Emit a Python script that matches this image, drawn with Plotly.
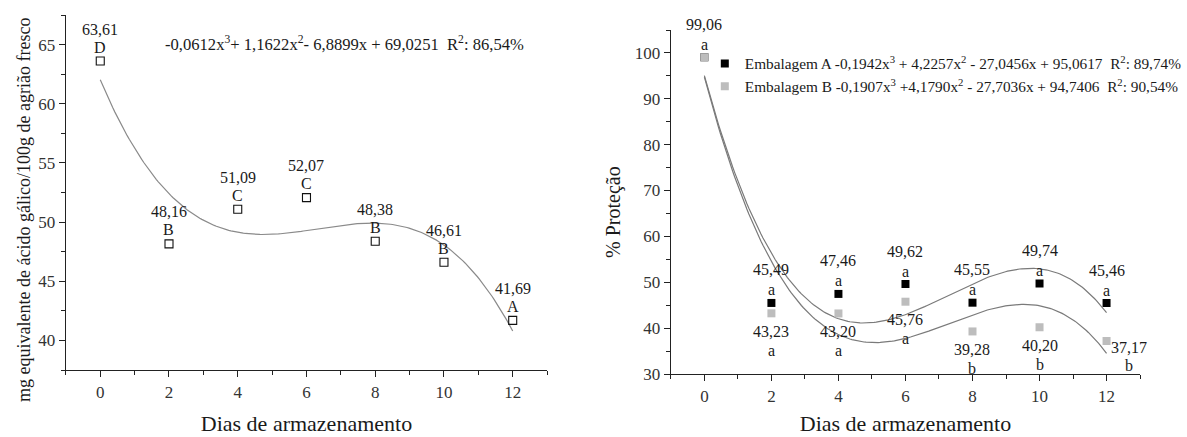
import numpy as np
import plotly.graph_objects as go

# ---- data ----
dias = [0, 2, 4, 6, 8, 10, 12]
fenois = [63.61, 48.16, 51.09, 52.07, 48.38, 46.61, 41.69]
fenois_letras = ["D", "B", "C", "C", "B", "B", "A"]

prot_a = [99.06, 45.49, 47.46, 49.62, 45.55, 49.74, 45.46]
prot_a_letras = ["a", "a", "a", "a", "a", "a", "a"]
prot_b = [99.06, 43.23, 43.20, 45.76, 39.28, 40.20, 37.17]
prot_b_letras = ["a", "a", "a", "a", "b", "b", "b"]

eq_left = "-0,0612x<sup>3</sup>+ 1,1622x<sup>2</sup>- 6,8899x + 69,0251\u00a0\u00a0R<sup>2</sup>: 86,54%"
name_a = "Embalagem A -0,1942x<sup>3</sup> + 4,2257x<sup>2</sup> - 27,0456x + 95,0617\u00a0\u00a0R<sup>2</sup>: 89,74%"
name_b = "Embalagem B -0,1907x<sup>3</sup> +4,1790x<sup>2</sup> - 27,7036x + 94,7406\u00a0\u00a0R<sup>2</sup>: 90,54%"

FONT = "Liberation Serif"
TXT = "#1a1a1a"
W, H = 1187, 437

def fmt(v):
    return f"{v:.2f}".replace(".", ",")

fig = go.Figure()

# fitted curves
xs = np.linspace(0, 12, 200)
c_left = np.polyfit(dias, fenois, 3)
fig.add_trace(go.Scatter(x=xs, y=np.polyval(c_left, xs), mode="lines",
                         line=dict(color="#8a8a8a", width=1.2), showlegend=False,
                         xaxis="x", yaxis="y"))
fig.add_trace(go.Scatter(x=dias, y=fenois, mode="markers",
                         marker=dict(symbol="square-open", size=8, color="#111",
                                     line=dict(width=1.1, color="#111")),
                         showlegend=False, xaxis="x", yaxis="y"))

c_a = np.polyfit(dias, prot_a, 3)
c_b = np.polyfit(dias, prot_b, 3)
fig.add_trace(go.Scatter(x=xs, y=np.polyval(c_a, xs), mode="lines",
                         line=dict(color="#7a7a7a", width=1.2), showlegend=False,
                         xaxis="x2", yaxis="y2"))
fig.add_trace(go.Scatter(x=xs, y=np.polyval(c_b, xs), mode="lines",
                         line=dict(color="#7a7a7a", width=1.2), showlegend=False,
                         xaxis="x2", yaxis="y2"))
fig.add_trace(go.Scatter(x=dias, y=prot_a, mode="markers", name=name_a,
                         marker=dict(symbol="square", size=8, color="#000"),
                         xaxis="x2", yaxis="y2"))
fig.add_trace(go.Scatter(x=dias, y=prot_b, mode="markers", name=name_b,
                         marker=dict(symbol="square", size=8, color="#bdbdbd"),
                         xaxis="x2", yaxis="y2"))

ann = []
lab_font = dict(family=FONT, size=16, color=TXT)
for x, v, l in zip(dias, fenois, fenois_letras):
    ann.append(dict(x=x, y=v, xref="x", yref="y", text=fmt(v), showarrow=False,
                    yshift=32, font=lab_font))
    ann.append(dict(x=x, y=v, xref="x", yref="y", text=l, showarrow=False,
                    yshift=14, font=lab_font))
for x, v, l in zip(dias, prot_a, prot_a_letras):
    ann.append(dict(x=x, y=v, xref="x2", yref="y2", text=fmt(v), showarrow=False,
                    yshift=33, font=lab_font))
    ann.append(dict(x=x, y=v, xref="x2", yref="y2", text=l, showarrow=False,
                    yshift=13, font=lab_font))
for i, (x, v, l) in enumerate(zip(dias[1:], prot_b[1:], prot_b_letras[1:])):
    last = (i == len(dias) - 2)
    xs_ = 22 if last else 0
    y1 = -6 if last else -18
    y2 = -24 if last else -37
    ann.append(dict(x=x, y=v, xref="x2", yref="y2", text=fmt(v), showarrow=False,
                    yshift=y1, xshift=xs_, font=lab_font))
    ann.append(dict(x=x, y=v, xref="x2", yref="y2", text=l, showarrow=False,
                    yshift=y2, xshift=xs_, font=lab_font))

ann.append(dict(x=163 / W, y=1 - 43 / H, xref="paper", yref="paper", text=eq_left,
                xanchor="left", yanchor="middle", showarrow=False,
                font=dict(family=FONT, size=16.6, color=TXT)))
ann.append(dict(x=24 / W, y=1 - 210 / H, xref="paper", yref="paper",
                text="mg equivalente de ácido gálico/100g de agrião fresco",
                textangle=-90, showarrow=False, xanchor="center", yanchor="middle",
                font=dict(family=FONT, size=18, color=TXT)))
ann.append(dict(x=614 / W, y=1 - 212 / H, xref="paper", yref="paper",
                text="% Proteção", textangle=-90, showarrow=False,
                xanchor="center", yanchor="middle",
                font=dict(family=FONT, size=20, color=TXT)))

def xaxis_style(domain, anchor, standoff):
    return dict(domain=domain, anchor=anchor, range=[-1, 13], dtick=2, tick0=0,
                showline=True, linecolor="#222", linewidth=1.3, showgrid=False,
                zeroline=False, ticks="outside", ticklen=6, tickcolor="#222",
                tickwidth=1.3, automargin=False,
                tickfont=dict(family=FONT, size=17, color="#333"),
                minor=dict(dtick=1, tick0=0, ticks="outside", ticklen=4,
                           tickcolor="#222", tickwidth=1.2, showgrid=False),
                title=dict(text="Dias de armazenamento", standoff=standoff,
                           font=dict(family=FONT, size=22, color=TXT)))

def yaxis_style(domain, anchor, rng, dt, mdt):
    return dict(domain=domain, anchor=anchor, range=rng, dtick=dt,
                showline=True, linecolor="#222", linewidth=1.3, showgrid=False,
                zeroline=False, ticks="outside", ticklen=6, tickcolor="#222",
                tickwidth=1.3, automargin=False,
                tickfont=dict(family=FONT, size=17, color="#333"),
                minor=dict(dtick=mdt, ticks="outside", ticklen=4,
                           tickcolor="#222", tickwidth=1.2, showgrid=False))

fig.update_layout(
    width=W, height=H, template="none",
    font=dict(family=FONT, color=TXT),
    paper_bgcolor="white", plot_bgcolor="white",
    margin=dict(l=0, r=0, t=0, b=0),
    xaxis=xaxis_style([66 / W, 548 / W], "y", 15),
    yaxis=yaxis_style([1 - 370 / H, 1 - 15 / H], "x", [37.5, 67.5], 5, 2.5),
    xaxis2=xaxis_style([672 / W, 1142 / W], "y2", 11),
    yaxis2=yaxis_style([1 - 374 / H, 1 - 30 / H], "x2", [30, 105], 10, 5),
    annotations=ann,
    showlegend=True,
    legend=dict(x=706 / W, y=1 - 47 / H, xanchor="left", yanchor="top",
                bgcolor="rgba(0,0,0,0)", borderwidth=0, tracegroupgap=0,
                font=dict(family=FONT, size=15.3, color=TXT)),
)

fig.write_html("out.html", config={"displayModeBar": False},
               post_script="document.body.style.margin='0';document.body.style.overflow='hidden';")
